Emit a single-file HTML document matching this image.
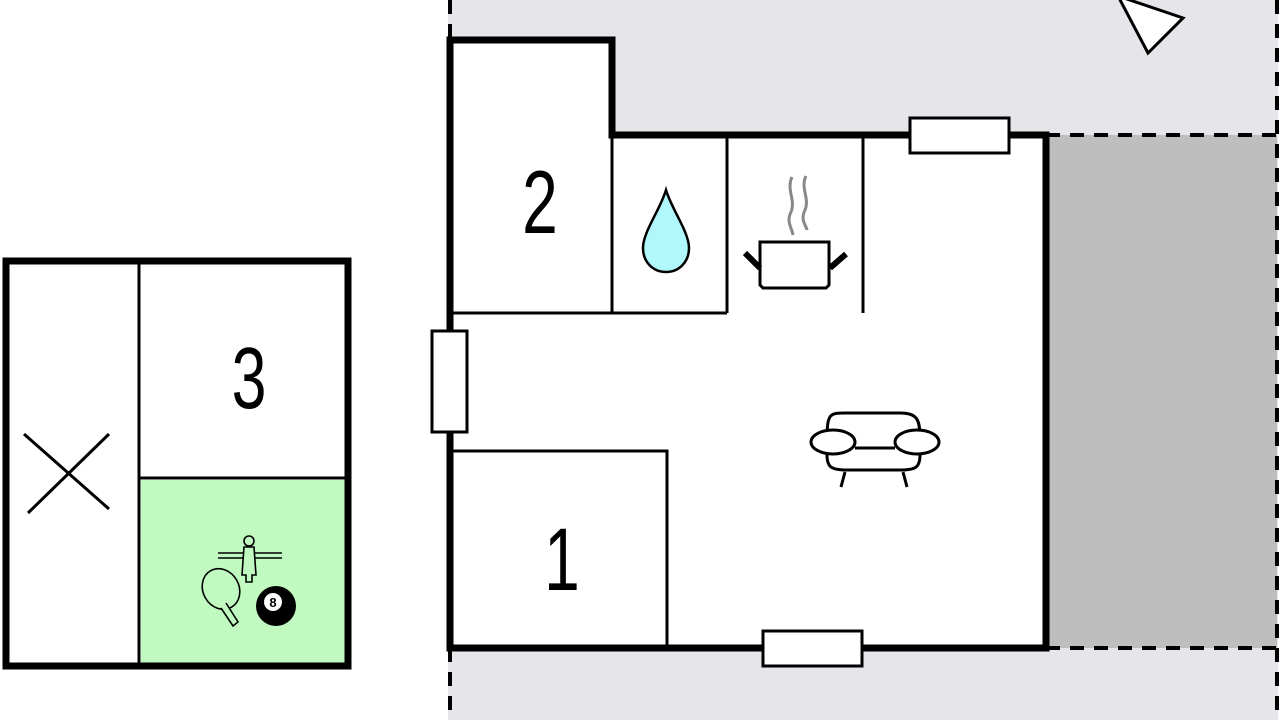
<!DOCTYPE html>
<html><head><meta charset="utf-8"><style>html,body{margin:0;padding:0;background:#fff;}svg{display:block}</style></head>
<body>
<svg width="1280" height="720" viewBox="0 0 1280 720" xmlns="http://www.w3.org/2000/svg" font-family="Liberation Sans, sans-serif">
<rect x="448" y="0" width="830" height="720" fill="#e6e6ea"/>
<rect x="1046" y="135" width="231" height="513" fill="#bebebf"/>
<path d="M450,0V720M1277,0V720M1046,135H1277M1046,648H1277" stroke="#000" stroke-width="4" stroke-dasharray="14,10" fill="none"/>
<polygon points="1118,-4 1183,18 1148,53" fill="#fff" stroke="#000" stroke-width="3"/>
<path d="M450,40H612V135H1046V648H450Z" fill="#fff" stroke="#000" stroke-width="7"/>
<path d="M450,313H727M612,135V313M727,138V313M863,138V313M450,451H667V648" stroke="#000" stroke-width="3" fill="none"/>
<rect x="910" y="118" width="99" height="35" fill="#fff" stroke="#000" stroke-width="3"/>
<rect x="432" y="331" width="35" height="101" fill="#fff" stroke="#000" stroke-width="3"/>
<rect x="763" y="631" width="99" height="35" fill="#fff" stroke="#000" stroke-width="3"/>
<text transform="translate(540,233) scale(0.72,1)" font-size="89" text-anchor="middle">2</text>
<text transform="translate(562,590) scale(0.72,1)" font-size="89" text-anchor="middle">1</text>
<path d="M666,190 C660,210 643,232 643,248 C643,262 653,272 666,272 C679,272 689,262 689,248 C689,232 672,210 666,190Z" fill="#b0f8fb" stroke="#000" stroke-width="2.5"/>
<path d="M792,177 C786,190 796,200 791,212 C786,222 792,228 793,235 M806,176 C800,188 810,198 805,210 C800,220 806,225 807,230" stroke="#888" stroke-width="3" fill="none"/>
<path d="M760,242H829V285L826,288H763L760,285Z" fill="#fff" stroke="#000" stroke-width="3"/>
<path d="M745,253L760,268M846,254L830,268" stroke="#000" stroke-width="6"/>
<g stroke="#000" stroke-width="3" fill="#fff">
<path d="M827,440 C827,412 830,413 848,413 H900 C918,413 920,420 920,440 V455 C920,468 915,470 900,470 H848 C832,470 827,468 827,455Z"/>
<ellipse cx="833" cy="442" rx="22" ry="12"/>
<ellipse cx="917" cy="442" rx="22" ry="12"/>
<path d="M855,448H895" fill="none"/>
<path d="M845,472L841,487M903,472L907,487" fill="none"/>
</g>
<rect x="141" y="480" width="207" height="186" fill="#c0fac0"/>
<rect x="6" y="261" width="342" height="405" fill="none" stroke="#000" stroke-width="7"/>
<path d="M139,262V665M139,478H348" stroke="#000" stroke-width="3"/>
<path d="M24,434L109,509M28,513L109,434" stroke="#000" stroke-width="3"/>
<text transform="translate(249,408) scale(0.72,1)" font-size="87" text-anchor="middle">3</text>
<g stroke="#000" stroke-width="1.6" fill="none">
<path d="M218,553H282M218,558H282"/>
<circle cx="249" cy="541" r="5"/>
<path d="M244,547H254L256,575H252V582H246V575H242Z" fill="#c0fac0"/>
<ellipse cx="221" cy="589" rx="18" ry="21" transform="rotate(-30 221 589)"/>
<path d="M226,603L238,622L233,626L221,608" fill="#c0fac0"/>
</g>
<circle cx="276" cy="606" r="20" fill="#000"/>
<circle cx="273" cy="602" r="9" fill="#fff"/>
<text x="273" y="607" font-size="13" font-weight="bold" text-anchor="middle">8</text>
</svg>
</body></html>
